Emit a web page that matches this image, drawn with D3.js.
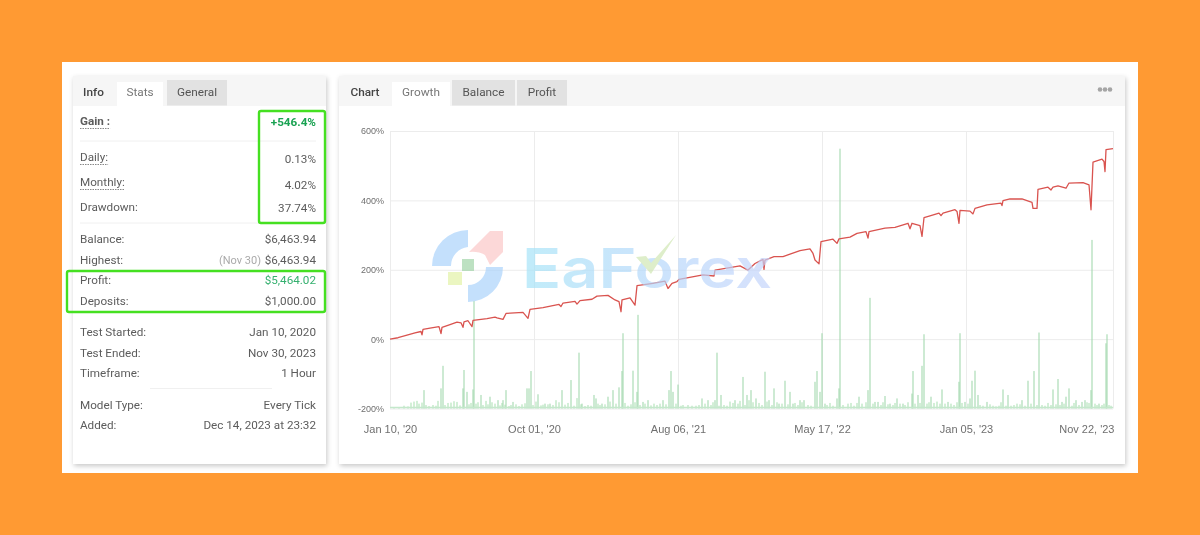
<!DOCTYPE html>
<html>
<head>
<meta charset="utf-8">
<script src="https://cdn.jsdelivr.net/npm/d3@7"></script>
<style>
  html, body { margin: 0; padding: 0; background: #ff9a33; }
  svg { display: block; filter: blur(0.4px); }
  text { font-family: Roboto, sans-serif; }
  .axis text { font-family: "Liberation Sans", Arial, sans-serif; fill: #6f6f6f; }
  .axis path { display: none; }
  .axis line { stroke: #ececec; }
</style>
</head>
<body>
<svg id="page" width="1200" height="535"></svg>
<script>
// tabs
const statsTabs = ["Info", "Stats", "General"];
const chartTabs = ["Chart", "Growth", "Balance", "Profit"];

// left panel rows
const statLabels = ["Gain :", "Daily:", "Monthly:", "Drawdown:", "Balance:", "Highest:", "Profit:", "Deposits:", "Test Started:", "Test Ended:", "Timeframe:", "Model Type:", "Added:"];
const statValues = ["+546.4%", "0.13%", "4.02%", "37.74%", "$6,463.94", "$6,463.94", "$5,464.02", "$1,000.00", "Jan 10, 2020", "Nov 30, 2023", "1 Hour", "Every Tick", "Dec 14, 2023 at 23:32"];

// chart axes
const yTicks = [-200, 0, 200, 400, 600];
const xTickIdx = [0, 144, 288, 432, 576, 723];
const xTickLabels = ["Jan 10, '20", "Oct 01, '20", "Aug 06, '21", "May 17, '22", "Jan 05, '23", "Nov 22, '23"];

// growth line, x is the trade index
const growthIdx = [0, 8, 17, 25, 31, 32, 33, 40, 49, 51, 52, 60, 67, 71, 73, 74, 78, 82, 83, 97, 105, 107, 113, 116, 133, 138, 140, 153, 169, 171, 173, 185, 187, 190, 202, 207, 218, 225, 229, 231, 232, 240, 245, 247, 263, 275, 278, 282, 287, 289, 313, 324, 325, 350, 358, 365, 373, 374, 375, 384, 393, 400, 410, 420, 423, 425, 429, 431, 443, 447, 449, 460, 467, 476, 478, 479, 495, 505, 518, 520, 522, 530, 532, 534, 540, 549, 551, 553, 565, 567, 569, 570, 580, 583, 585, 597, 611, 612, 613, 620, 632, 642, 643, 647, 648, 658, 661, 663, 668, 676, 679, 693, 699, 701, 703, 712, 714, 715, 716, 723];
const growthVals = [0, 4, 11.5, 18, 22, 12.5, 28, 32, 36, 16, 34, 42, 49, 47, 34, 50, 53, 36, 54, 59, 63.5, 61, 57, 74, 77, 60, 86, 91, 100, 94, 104, 109, 101, 111, 115, 124, 126, 113, 108, 79, 113, 119, 98, 154, 161, 167, 146, 161, 166, 172, 185, 182, 199, 211, 199, 218, 230, 201, 228, 238, 238, 245, 255, 260, 247, 228, 217, 281, 288, 276, 289, 294, 305, 310, 291, 310, 320, 322, 334, 318, 334, 327, 296, 350, 355, 363, 356, 363, 373, 368, 334, 371, 369, 361, 377, 387, 392, 385, 399, 404, 404, 394, 377, 377, 432, 438, 430, 438, 442, 435, 450, 451, 445, 373, 510, 519, 512, 483, 546, 549];

// green spikes
const spikeIdx = [34, 51, 53, 73, 74, 77, 83, 84, 91, 100, 108, 113, 116, 123, 137, 139, 141, 148, 155, 160, 172, 181, 189, 192, 204, 206, 212, 218, 223, 229, 232, 233, 243, 247, 248, 253, 258, 273, 279, 281, 283, 288, 312, 318, 325, 327, 331, 345, 353, 357, 361, 366, 375, 379, 384, 389, 395, 400, 403, 410, 414, 425, 427, 430, 432, 435, 447, 449, 450, 469, 478, 480, 485, 488, 495, 500, 507, 513, 522, 523, 528, 532, 534, 541, 552, 558, 569, 570, 575, 580, 582, 585, 588, 597, 613, 618, 632, 638, 644, 649, 663, 668, 672, 676, 679, 686, 692, 695, 701, 702, 709, 716, 717];
const spikeVals = [-147, -142, -77, -142, -89, -152, -145, 110, -161, -166, -176, -176, -147, -181, -142, -142, -92, -159, -186, -186, -147, -118, -39, -186, -161, -171, -186, -166, -147, -139, -92, 17, -91, -152, 70, -181, -176, -176, -147, -92, -152, -131, -171, -176, -176, -39, -161, -176, -109, -161, -147, -171, -94, -176, -142, -186, -120, -152, -186, -176, -176, -123, -92, -152, 17, -186, -171, -142, 549, -166, -147, 119, -181, -181, -164, -186, -171, -186, -157, -92, -161, -77, 14, -166, -145, -181, -123, 17, -181, -171, -120, -91, -161, -181, -145, -161, -176, -120, -92, 19, -145, -115, -181, -166, -142, -176, -181, -176, -147, 286, -186, -12, 14];

// low carpet of green bars along the baseline
const carpetIdx = [4, 9, 14, 18, 21, 24, 27, 29, 32, 36, 39, 43, 46, 48, 55, 58, 61, 64, 67, 70, 79, 81, 86, 88, 93, 96, 98, 102, 105, 110, 112, 115, 119, 121, 126, 129, 132, 135, 143, 146, 151, 153, 158, 163, 166, 169, 175, 178, 184, 187, 191, 195, 198, 201, 208, 210, 215, 220, 226, 235, 238, 241, 245, 250, 255, 261, 264, 267, 270, 276, 286, 291, 293, 298, 302, 306, 309, 315, 321, 323, 329, 334, 337, 340, 343, 348, 350, 355, 359, 363, 369, 372, 377, 382, 387, 392, 398, 405, 408, 412, 418, 421, 437, 440, 443, 453, 458, 461, 464, 467, 472, 476, 483, 491, 493, 498, 503, 505, 510, 515, 518, 525, 530, 537, 539, 544, 547, 550, 555, 561, 564, 567, 572, 578, 590, 593, 600, 603, 606, 609, 611, 616, 621, 624, 627, 630, 635, 641, 647, 652, 655, 658, 661, 666, 670, 674, 682, 684, 689, 697, 699, 705, 707, 712, 714, 719, 721];
const carpetVals = [-196, -196, -192, -194, -183, -180, -178, -186, -183, -190, -193, -190, -192, -178, -190, -184, -183, -179, -181, -191, -188, -184, -186, -182, -190, -178, -188, -182, -186, -191, -184, -189, -193, -190, -188, -193, -188, -185, -190, -180, -191, -189, -188, -190, -176, -182, -189, -184, -192, -170, -188, -193, -190, -192, -186, -190, -188, -180, -186, -184, -192, -188, -182, -190, -186, -191, -186, -190, -186, -188, -186, -192, -190, -190, -192, -192, -190, -186, -190, -182, -192, -190, -192, -180, -184, -186, -178, -190, -176, -182, -184, -190, -180, -190, -182, -186, -188, -184, -190, -182, -190, -192, -190, -184, -192, -190, -186, -184, -192, -184, -186, -182, -186, -190, -182, -188, -190, -184, -186, -190, -182, -186, -184, -186, -182, -184, -180, -186, -186, -186, -190, -182, -184, -186, -190, -192, -188, -192, -194, -192, -182, -192, -192, -190, -186, -188, -192, -186, -190, -190, -192, -184, -190, -188, -190, -186, -192, -184, -190, -182, -184, -186, -190, -190, -186, -190, -192];

const svg = d3.select("#page");
const defs = svg.append("defs");

const shadow = defs.append("filter").attr("id", "panelShadow").attr("x", "-5%").attr("y", "-5%").attr("width", "110%").attr("height", "110%");
shadow.append("feDropShadow").attr("dx", 1).attr("dy", 2).attr("stdDeviation", 2.5).attr("flood-color", "#000").attr("flood-opacity", 0.22);

const wordGrad = defs.append("linearGradient").attr("id", "wordGrad");
wordGrad.append("stop").attr("offset", "0%").attr("stop-color", "#a4e4f8");
wordGrad.append("stop").attr("offset", "55%").attr("stop-color", "#b4d6fb");
wordGrad.append("stop").attr("offset", "100%").attr("stop-color", "#c4d4fb");

// page frame
svg.append("rect").attr("width", 1200).attr("height", 535).attr("fill", "#ff9a33");
svg.append("rect").attr("x", 62).attr("y", 62).attr("width", 1076).attr("height", 411).attr("fill", "#fff");

function drawPanel(x, width, tabs, activeTab, tabBoxes) {
  const g = svg.append("g");
  g.append("rect").attr("x", x).attr("y", 76).attr("width", width).attr("height", 388)
    .attr("fill", "#fff").attr("filter", "url(#panelShadow)");
  g.append("rect").attr("x", x).attr("y", 76).attr("width", width).attr("height", 30).attr("fill", "#f6f6f6");

  tabs.forEach((name, i) => {
    const box = tabBoxes[i];
    if (i === activeTab) {
      g.append("rect").attr("x", box[0]).attr("y", 82).attr("width", box[1] - box[0]).attr("height", 24).attr("fill", "#fff");
    } else if (i > 0) {
      g.append("rect").attr("x", box[0]).attr("y", 80).attr("width", box[1] - box[0]).attr("height", 25.5).attr("fill", "#e2e2e2");
    }
    g.append("text")
      .attr("x", (box[0] + box[1]) / 2)
      .attr("y", 96)
      .attr("text-anchor", "middle")
      .attr("font-size", 11.8)
      .attr("font-weight", i === 0 ? 500 : 400)
      .attr("fill", i === 0 ? "#444" : i === activeTab ? "#777" : "#555")
      .text(name);
  });
}

drawPanel(73, 253, statsTabs, 1, [[80, 107], [117, 163], [167, 227]]);
drawPanel(339, 786, chartTabs, 1, [[346, 384], [392, 450], [452, 515], [517, 567]]);

// more menu
svg.append("g").selectAll("circle").data([1100, 1105, 1110]).join("circle")
  .attr("cx", d => d).attr("cy", 89.5).attr("r", 2.3).attr("fill", "#a5a5a5");

// left panel text
const rowY = [121, 157, 182, 207, 239, 260, 280, 300.5, 332, 353, 373, 405, 425];
const valueY = [122, 159, 185, 208, 239, 260, 280, 300.5, 332, 353, 373, 405, 425];
const rows = svg.append("g");
statLabels.forEach((label, i) => {
  const t = rows.append("text")
    .attr("x", 80).attr("y", rowY[i] + 4)
    .attr("font-size", 11.7)
    .attr("font-weight", i === 0 ? 700 : 400)
    .attr("fill", "#5c5c5c")
    .text(label);
  if (i < 3) {
    const w = t.node().getComputedTextLength();
    const ly = rowY[i] + 7.5;
    rows.append("line").attr("x1", 80).attr("x2", 80 + w).attr("y1", ly).attr("y2", ly)
      .attr("stroke", "#888").attr("stroke-dasharray", "1.5 1").attr("stroke-width", 1);
  }
  rows.append("text")
    .attr("x", 316).attr("y", valueY[i] + 4)
    .attr("text-anchor", "end")
    .attr("font-size", 11.7)
    .attr("font-weight", i === 0 ? 700 : 400)
    .attr("fill", i === 0 ? "#1aa252" : i === 6 ? "#35b06f" : "#5c5c5c")
    .text(statValues[i]);
});
rows.append("text").attr("x", 261).attr("y", 264).attr("text-anchor", "end")
  .attr("font-size", 11).attr("fill", "#aaa").text("(Nov 30)");

[[80, 316, 141], [80, 316, 223], [150, 272, 388.5]].forEach(r => {
  rows.append("line").attr("x1", r[0]).attr("x2", r[1]).attr("y1", r[2]).attr("y2", r[2])
    .attr("stroke", "#f0f0f0");
});

// chart
const x = d3.scaleLinear().domain([0, 723]).range([390, 1113]);
const y = d3.scaleLinear().domain([-200, 600]).range([408.5, 131]);

const xAxis = d3.axisBottom(x)
  .tickValues(xTickIdx)
  .tickSize(-(y(-200) - y(600)))
  .tickPadding(17)
  .tickFormat((d, i) => xTickLabels[i]);
const yAxis = d3.axisLeft(y)
  .tickValues(yTicks)
  .tickSize(-(x(723) - x(0)))
  .tickPadding(6)
  .tickFormat(d => d + "%");

const gx = svg.append("g").attr("class", "axis").attr("transform", `translate(0,${y(-200)})`).call(xAxis);
gx.selectAll("text").attr("font-size", 11);
gx.selectAll(".tick:last-of-type text").attr("text-anchor", "end").attr("x", 1);

const gy = svg.append("g").attr("class", "axis").attr("transform", `translate(${x(0)},0)`).call(yAxis);
gy.selectAll("text").attr("font-size", 9);

// bars
function drawBars(idx, vals, fill, opacity) {
  svg.append("g").selectAll("rect").data(idx).join("rect")
    .attr("x", d => x(d) - 0.6)
    .attr("width", 1.2)
    .attr("y", (d, i) => y(vals[i]))
    .attr("height", (d, i) => y(-200) - y(vals[i]))
    .attr("fill", fill)
    .attr("opacity", opacity);
}
drawBars(carpetIdx, carpetVals, "#a9dfb2", 0.85);
drawBars(spikeIdx, spikeVals, "#a3d8ae", 0.9);

svg.append("line")
  .attr("x1", x(0)).attr("x2", x(723))
  .attr("y1", y(-197)).attr("y2", y(-197))
  .attr("stroke", "#c4e8cb").attr("stroke-width", 1.4);

// growth line
const line = d3.line().x(d => x(growthIdx[d])).y(d => y(growthVals[d]));
svg.append("path")
  .attr("d", line(d3.range(growthIdx.length)))
  .attr("fill", "none")
  .attr("stroke", "#d9534f")
  .attr("stroke-width", 1.3)
  .attr("stroke-linejoin", "round");

// watermark
const mark = svg.append("g").attr("opacity", 0.68);
mark.append("path").attr("fill", "#a9d2fb")
  .attr("d", "M432,266 A36,36 0 0 1 468,230 L468,247 A19,19 0 0 0 451,266 Z");
mark.append("path").attr("fill", "#a9d2fb")
  .attr("d", "M468,302 A35,35 0 0 0 503,267 L486,267 A18,18 0 0 1 468,285 Z");
mark.append("path").attr("fill", "#fcc6c6")
  .attr("d", "M469,252 L490,231 L503,231 L503,252 L490,265 L485,255 Q478,251 469,252 Z");
mark.append("rect").attr("x", 462).attr("y", 259).attr("width", 12).attr("height", 12).attr("fill", "#9fd3a6");
mark.append("rect").attr("x", 448).attr("y", 272).attr("width", 14).attr("height", 13).attr("fill", "#e2f2a4");
mark.append("text")
  .attr("x", 522).attr("y", 288)
  .attr("textLength", 250)
  .attr("lengthAdjust", "spacingAndGlyphs")
  .attr("font-size", 55)
  .attr("font-weight", 600)
  .attr("fill", "url(#wordGrad)")
  .style("font-family", "Inter, sans-serif")
  .text("EaForex");
mark.append("path").attr("fill", "#cfe6b2")
  .attr("d", "M636,257 L646,256 L651,263 L676,235 L651,274 Z");

// highlight boxes
[[259, 111, 66, 112], [67, 271, 258, 41]].forEach(b => {
  svg.append("rect")
    .attr("x", b[0]).attr("y", b[1]).attr("width", b[2]).attr("height", b[3])
    .attr("rx", 2)
    .attr("fill", "none")
    .attr("stroke", "#45e021")
    .attr("stroke-width", 2.4);
});
</script>
</body>
</html>
